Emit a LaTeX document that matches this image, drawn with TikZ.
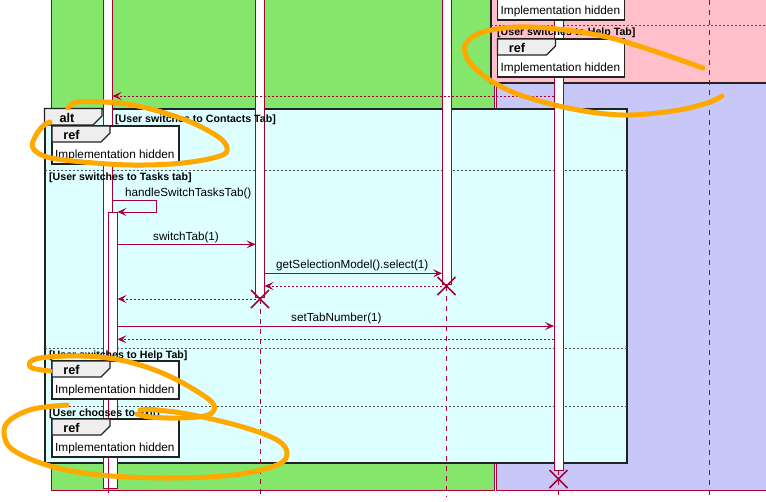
\documentclass[tikz,border=0pt]{standalone}
\usepackage{fontspec}
\setmainfont{Liberation Sans}
\usetikzlibrary{arrows.meta}
\definecolor{crim}{HTML}{A80036}
\definecolor{grn}{HTML}{84E66B}
\definecolor{pnk}{HTML}{FFC0CB}
\definecolor{lav}{HTML}{C8C8F8}
\definecolor{altfill}{HTML}{DDFFFF}
\definecolor{tabfill}{HTML}{EEEEEE}
\definecolor{frm}{HTML}{222222}
\definecolor{scrib}{HTML}{FFA800}
\newcommand\myrefbody[3]{%
  \draw[frm,line width=1.4pt,fill=white] (#1,#2) rectangle (#1+127,#2+38);
  \draw[frm,line width=1.4pt,fill=tabfill,line join=miter] (#1,#2) -- (#1+58,#2) -- (#1+58,#2+7) -- (#1+49,#2+16) -- (#1,#2+16) -- cycle;
  \node[reftext] (#3txt) at (#1+3,#2+32) {Implementation hidden};
}
\newcommand\myrefbox[3]{%
  \myrefbody{#1}{#2}{#3}%
  \node[tablabel] (#3tab) at (#1+19.5,#2+13.5) {ref};
}
\begin{document}
\begin{tikzpicture}[x=1pt,y=-1pt,
  bar/.style={fill=white,draw=crim,line width=0.8pt},
  life/.style={draw=crim,line width=0.8pt,dash pattern=on 5pt off 5pt},
  msg/.style={draw=crim,line width=0.9pt,-{Stealth[length=9pt,width=8pt,inset=4pt]}},
  ret/.style={msg,dash pattern=on 2pt off 2pt},
  mlabel/.style={anchor=base west,inner sep=0pt,font=\fontsize{11.7}{13}\selectfont},
  guard/.style={anchor=base west,inner sep=0pt,font=\bfseries\fontsize{10.6}{12}\selectfont},
  tablabel/.style={anchor=base,inner sep=0pt,font=\bfseries\fontsize{12.7}{14}\selectfont},
  reftext/.style={anchor=base west,inner sep=0pt,font=\fontsize{11.8}{13}\selectfont},
  sep/.style={draw=frm!80,line width=0.8pt,dash pattern=on 2pt off 2pt},
  xmark/.style={draw=crim,line width=1.6pt},
  scribble/.style={draw=scrib,line width=5pt,line cap=round,line join=round}
]
\useasboundingbox (0,0) rectangle (766,501);
\clip (0,0) rectangle (766,501);
\fill[white] (0,0) rectangle (766,501);
% boxes
\draw[crim,line width=0.8pt,fill=grn] (51,-10) rectangle (494,490);
\draw[crim,line width=0.8pt,fill=lav] (496,-10) rectangle (790,490);
% pink alt frame (top right)
\draw[frm,line width=1.6pt,fill=pnk] (491,-10) rectangle (790,83);
\draw[sep] (491,25) -- (766,25);
% main alt frame
\draw[frm,line width=2pt,fill=altfill] (44.5,108.5) rectangle (626.5,463);
\draw[sep] (44.5,170) -- (626.5,170);
\draw[sep] (44.5,348) -- (626.5,348);
\draw[sep] (44.5,406) -- (626.5,406);
% lifelines
\draw[life] (108,488) -- (108,497);
\draw[life] (260,299) -- (260,497);
\draw[life] (446.5,286) -- (446.5,497);
\draw[life] (558.5,470) -- (558.5,497);
\draw[life] (709,-10) -- (709,497);
% activation bars
\draw[bar] (103.5,-10) rectangle (112.5,488);
\draw[bar] (108.5,212) rectangle (117.5,488);
\draw[bar] (255.5,-10) rectangle (264.5,297);
\draw[bar] (442,-10) rectangle (451,284);
\draw[bar] (554,-10) rectangle (563,470);
% named anchor points
\coordinate (b1r) at (112.5,96);
\coordinate (b4l) at (554,96);
\coordinate (s0) at (112.5,200.5);
\coordinate (s1) at (156,200.5);
\coordinate (s2) at (156,212);
\coordinate (s3) at (117.5,212);
\coordinate (a1) at (117.5,244.3);
\coordinate (a2) at (255.5,244.3);
\coordinate (g1) at (264.5,273.3);
\coordinate (g2) at (442,273.3);
\coordinate (r1) at (442,286);
\coordinate (r2) at (264.5,286);
\coordinate (q1) at (255.5,299);
\coordinate (q2) at (117.5,299);
\coordinate (t1) at (117.5,326);
\coordinate (t2) at (554,326);
\coordinate (u1) at (554,339.3);
\coordinate (u2) at (117.5,339.3);
% messages
\draw[ret] (b4l) -- (b1r);
\draw[msg] (s0) -- (s1) -- (s2) -- (s3);
\node[mlabel] (lh) at (125,196) {handleSwitchTasksTab()};
\draw[msg] (a1) -- (a2);
\node[mlabel] (ls) at (153,240) {switchTab(1)};
\draw[msg] (g1) -- (g2);
\node[mlabel] (lg) at (276,268.5) {getSelectionModel().select(1)};
\draw[ret] (r1) -- (r2);
\draw[ret] (q1) -- (q2);
\draw[msg] (t1) -- (t2);
\node[mlabel] (lt) at (291,321.5) {setTabNumber(1)};
\draw[ret] (u1) -- (u2);
% destroy marks
\draw[xmark] (251,290) -- (269,308) (251,308) -- (269,290);
\draw[xmark] (437.5,277) -- (455.5,295) (437.5,295) -- (455.5,277);
\draw[xmark] (549.5,470) -- (567.5,488) (549.5,488) -- (567.5,470);
% alt tab
\draw[frm,line width=1.4pt,fill=tabfill,line join=miter] (44.5,108.5) -- (102,108.5) -- (102,116) -- (93,125) -- (44.5,125) -- cycle;
\node[tablabel] (alttab) at (67,122.5) {alt};
% guards
\node[guard] (g0) at (115,122) {[User switches to Contacts Tab]};
\node[guard] (gt) at (49,180.5) {[User switches to Tasks tab]};
\node[guard] (gh) at (49,358.5) {[User switches to Help Tab]};
\node[guard] (gx) at (49,416.5) {[User chooses to exit]};
\node[guard] (gp) at (497,35.5) {[User switches to Help Tab]};
% ref boxes
\myrefbox{52}{126}{rA}
\myrefbox{52}{361}{rB}
\myrefbox{52}{419}{rC}
\myrefbody{497.5}{-18}{rD}
\myrefbox{497.5}{39}{rE}
% orange scribbles
\draw[scribble] plot[smooth,tension=0.6] coordinates {(68,108) (74,103) (90,101.5) (133,105) (183,119) (217,136) (227,148) (220,156) (183,163) (133,165) (83,162) (47,157) (33,148) (35,137) (43,126) (50,122)};
\draw[scribble] plot[smooth,tension=0.6] coordinates {(703,68) (657,52) (607,37) (557,29) (517,27) (483,32) (467,42) (465,53) (473,66) (493,82) (523,96) (573,109) (623,115) (673,111) (707,103) (722,96)};
\draw[scribble] plot[smooth,tension=0.6] coordinates {(50,371) (32,368) (30,362) (40,358) (67,356) (100,357) (133,363) (167,375) (198,392) (214,405) (208,415) (180,418) (150,417) (137,414)};
\draw[scribble] plot[smooth,tension=0.6] coordinates {(67,405) (33,409) (10,420) (4,433) (13,450) (50,466) (100,475) (167,478) (233,475) (277,465) (287,453) (277,440) (243,427) (193,415) (157,410) (140,410)};
\end{tikzpicture}
\end{document}
